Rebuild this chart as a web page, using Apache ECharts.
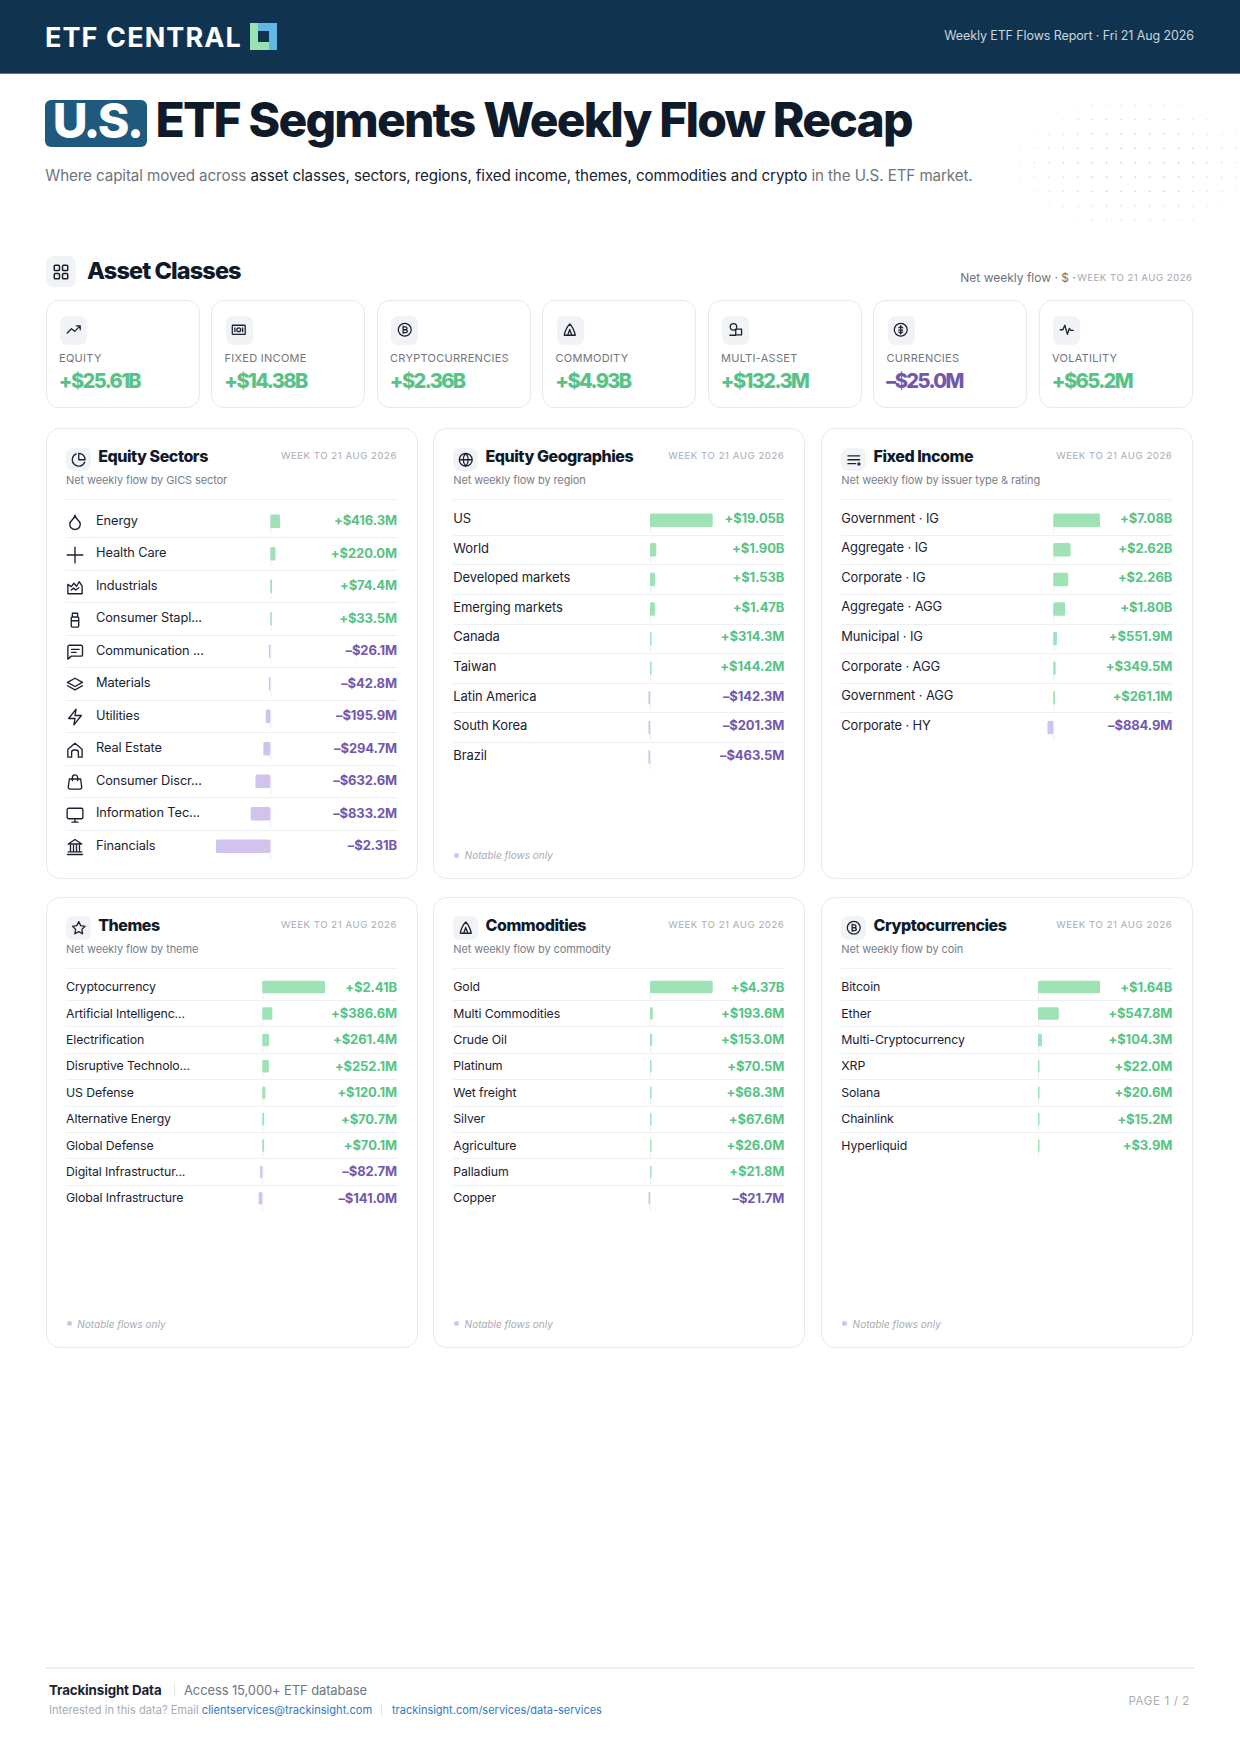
<!DOCTYPE html>
<html>
<head>
<meta charset="utf-8">
<title>U.S. ETF Segments Weekly Flow Recap</title>
<script src="https://cdn.jsdelivr.net/npm/echarts@6/dist/echarts.min.js"></script>
<style>
html, body { margin: 0; padding: 0; background: #fff; }
#page { position: relative; width: 1240px; height: 1754px; overflow: hidden; font-family: Inter, sans-serif; color: #111c2b; }
#page div { position: absolute; white-space: nowrap; }
#page svg.ic { display: block; fill: none; stroke: #1a2230; stroke-linecap: round; stroke-linejoin: round; }
#chart { position: absolute; left: 0; top: 0; width: 1240px; height: 1754px; letter-spacing: -0.1px; }
a { color: #2f7ac8; text-decoration: none; }
</style>
</head>
<body>
<div id="page"><div id="chart"></div></div>
<script>
// asset class cards
var assetNames = ['EQUITY', 'FIXED INCOME', 'CRYPTOCURRENCIES', 'COMMODITY', 'MULTI-ASSET', 'CURRENCIES', 'VOLATILITY'];
var assetLabels = ['+$25.61B', '+$14.38B', '+$2.36B', '+$4.93B', '+$132.3M', '–$25.0M', '+$65.2M'];

// panels, flows in $M
var sectorNames = ['Energy', 'Health Care', 'Industrials', 'Consumer Stapl...', 'Communication ...', 'Materials', 'Utilities', 'Real Estate', 'Consumer Discr...', 'Information Tec...', 'Financials'];
var sectorFlows = [416.3, 220.0, 74.4, 33.5, -26.1, -42.8, -195.9, -294.7, -632.6, -833.2, -2310];
var sectorLabels = ['+$416.3M', '+$220.0M', '+$74.4M', '+$33.5M', '–$26.1M', '–$42.8M', '–$195.9M', '–$294.7M', '–$632.6M', '–$833.2M', '–$2.31B'];

var geoNames = ['US', 'World', 'Developed markets', 'Emerging markets', 'Canada', 'Taiwan', 'Latin America', 'South Korea', 'Brazil'];
var geoFlows = [19050, 1900, 1530, 1470, 314.3, 144.2, -142.3, -201.3, -463.5];
var geoLabels = ['+$19.05B', '+$1.90B', '+$1.53B', '+$1.47B', '+$314.3M', '+$144.2M', '–$142.3M', '–$201.3M', '–$463.5M'];

var fixedNames = ['Government · IG', 'Aggregate · IG', 'Corporate · IG', 'Aggregate · AGG', 'Municipal · IG', 'Corporate · AGG', 'Government · AGG', 'Corporate · HY'];
var fixedFlows = [7080, 2620, 2260, 1800, 551.9, 349.5, 261.1, -884.9];
var fixedLabels = ['+$7.08B', '+$2.62B', '+$2.26B', '+$1.80B', '+$551.9M', '+$349.5M', '+$261.1M', '–$884.9M'];

var themeNames = ['Cryptocurrency', 'Artificial Intelligenc...', 'Electrification', 'Disruptive Technolo...', 'US Defense', 'Alternative Energy', 'Global Defense', 'Digital Infrastructur...', 'Global Infrastructure'];
var themeFlows = [2410, 386.6, 261.4, 252.1, 120.1, 70.7, 70.1, -82.7, -141.0];
var themeLabels = ['+$2.41B', '+$386.6M', '+$261.4M', '+$252.1M', '+$120.1M', '+$70.7M', '+$70.1M', '–$82.7M', '–$141.0M'];

var commodityNames = ['Gold', 'Multi Commodities', 'Crude Oil', 'Platinum', 'Wet freight', 'Silver', 'Agriculture', 'Palladium', 'Copper'];
var commodityFlows = [4370, 193.6, 153.0, 70.5, 68.3, 67.6, 26.0, 21.8, -21.7];
var commodityLabels = ['+$4.37B', '+$193.6M', '+$153.0M', '+$70.5M', '+$68.3M', '+$67.6M', '+$26.0M', '+$21.8M', '–$21.7M'];

var coinNames = ['Bitcoin', 'Ether', 'Multi-Cryptocurrency', 'XRP', 'Solana', 'Chainlink', 'Hyperliquid'];
var coinFlows = [1640, 547.8, 104.3, 22.0, 20.6, 15.2, 3.9];
var coinLabels = ['+$1.64B', '+$547.8M', '+$104.3M', '+$22.0M', '+$20.6M', '+$15.2M', '+$3.9M'];

var GREEN = '#57c386', PURPLE = '#7258ad', BAR_GREEN = '#9fe2b6', BAR_PURPLE = '#d0c4ee';
var WEEK = 'WEEK TO 21 AUG 2026';

function circle(cx, cy, r) {
    return 'M' + (cx - r) + ' ' + cy + 'a' + r + ' ' + r + ' 0 1 0 ' + (2 * r) + ' 0a' + r + ' ' + r + ' 0 1 0 ' + (-2 * r) + ' 0';
}
function square(x, y) {
    return 'M' + (x + 1.5) + ' ' + y + 'h4a1.5 1.5 0 0 1 1.5 1.5v4a1.5 1.5 0 0 1-1.5 1.5h-4a1.5 1.5 0 0 1-1.5-1.5v-4a1.5 1.5 0 0 1 1.5-1.5z';
}
var coin = circle(12, 12, 10) + 'M9.5 7.5h3.7a2.2 2.2 0 0 1 0 4.5H9.5zM9.5 12h4.2a2.2 2.2 0 0 1 0 4.5H9.5zM9.5 6.5v11';
var peak = 'M12 3C8 7 5 13 3.5 20.5h17C19 13 16 7 12 3zM12 11.5l-3.2 9M12 11.5l3.2 9';
var icons = {
    drop: 'M12 22a7 7 0 0 0 7-7c0-2-1-3.9-3-5.5s-3.5-4-4-6.5c-.5 2.5-2 4.9-4 6.5C6 11.1 5 13 5 15a7 7 0 0 0 7 7z',
    plus: 'M1.5 12h21M12 1.5v21',
    factory: 'M2.5 21V8.5l4.5 3 3.5-4.5 3.5 4 3.5-6 4 5.5V21zM7 16l3-2.5 3 2.5 4-3',
    bottle: 'M8.5 3h7v5h-7zM8.5 8h7a1.5 1.5 0 0 1 1.5 1.5V20a1.5 1.5 0 0 1-1.5 1.5h-7A1.5 1.5 0 0 1 7 20V9.5A1.5 1.5 0 0 1 8.5 8zM7 13h10',
    chat: 'M22 15.5a2 2 0 0 1-2 2H7l-4.5 4V5a2 2 0 0 1 2-2H20a2 2 0 0 1 2 2zM7.5 8.5h10M7.5 12.5h6',
    layers: 'M12 3 2 8.5 12 14l10-5.5zM2 13l10 5.5L22 13',
    zap: 'M13.5 1.5 3.5 14h8.5l-1.5 8.5 10-12.5H12z',
    house: 'M2.5 11 12 3l9.5 8v10.5h-5V15a3 3 0 0 0-3-3h-3a3 3 0 0 0-3 3v6.5h-5z',
    bag: 'M4.5 8h15l1.5 11a2.5 2.5 0 0 1-2.5 2.5h-13A2.5 2.5 0 0 1 3 19zM8.5 10V6a3.5 3.5 0 0 1 7 0v4',
    monitor: 'M3.5 3h17a2 2 0 0 1 2 2v10a2 2 0 0 1-2 2h-17a2 2 0 0 1-2-2V5a2 2 0 0 1 2-2zM8 21.5h8M12 17v4.5',
    bank: 'M2 22h20M3 18.5h18M6 18V10M10 18V10M14 18V10M18 18V10M12 2l9 6H3z',
    pie: 'M21.2 15.9A10 10 0 1 1 8 2.8M22 12A10 10 0 0 0 12 2v10z',
    globe: circle(12, 12, 10) + 'M2 12h20M12 2a15 15 0 0 1 0 20a15 15 0 0 1 0-20',
    lines: 'M3 6h18M3 12h18M3 18h12' + circle(20, 18.5, 1.6),
    star: 'M12 2.5l3 6.2 6.8 1-5 4.8 1.2 6.8-6-3.2-6 3.2 1.2-6.8-5-4.8 6.8-1z',
    peak: peak,
    coin: coin,
    grid: square(3, 3) + square(14, 3) + square(3, 14) + square(14, 14),
    trend: 'M22 6l-8.5 8.5-5-4L2 17M16 6h6v6',
    cash: 'M3 5h18a1 1 0 0 1 1 1v12a1 1 0 0 1-1 1H3a1 1 0 0 1-1-1V6a1 1 0 0 1 1-1z' + circle(12, 12, 3) + 'M6 9v6M18 9v6',
    shapes: circle(8.5, 7.5, 5) + 'M12 11h9v9h-9zM3 20.5h9',
    dollar: circle(12, 12, 10) + 'M12 5.5v13M9 9l3-2 3 2M9 12.5h6M9 15.5l3 2 3-2',
    pulse: 'M2 12h4l3-7 4 14 3-9 2 3h4'
};

var page = document.getElementById('page');

function put(left, top, html, css) {
    var d = document.createElement('div');
    d.style.cssText = 'left:' + left + 'px;top:' + top + 'px;' + (css || '');
    d.innerHTML = html;
    page.insertBefore(d, document.getElementById('chart'));
    return d;
}
// text, vertically centred on y
function text(x, y, str, css) {
    return put(x, y, str, 'transform:translateY(-50%);' + css);
}
function textR(x, y, str, css) {
    return put(x, y, str, 'transform:translate(-100%,-50%);' + css);
}
function icon(cx, cy, size, name, width) {
    put(cx - size / 2, cy - size / 2, '<svg class="ic" width="' + size + '" height="' + size + '" viewBox="0 0 24 24" stroke-width="' + (width || 2) + '"><path d="' + icons[name] + '"/></svg>');
}
function iconBox(x, y, w, h, name, size, width) {
    put(x, y, '', 'width:' + w + 'px;height:' + h + 'px;background:#f1f3f6;border-radius:7px;');
    icon(x + w / 2, y + h / 2, size, name, width);
}

// top banner
put(0, 0, '', 'width:1240px;height:73.5px;background:#10344f;border-bottom:0.5px solid #5f7a8c;box-sizing:border-box;');
text(45, 36.5, 'ETF CENTRAL', 'font-size:27px;font-weight:700;color:#fff;letter-spacing:1.1px;');
put(250, 23.3, '<svg width="27" height="27" viewBox="0 0 27 27" style="display:block"><rect width="27" height="27" fill="#62b6e4"/><path d="M0 0h8v19h11v8H0z" fill="#9be0b0"/><rect x="8" y="8" width="11" height="11" fill="#10344f"/></svg>');
textR(1194, 34.5, 'Weekly ETF Flows Report · Fri 21 Aug 2026', 'font-size:12.5px;letter-spacing:-0.1px;color:#c9d5de;');

// title
put(45.3, 100, '', 'width:101.5px;height:46.7px;background:#1f5a7e;border-radius:6px;');
put(97, 119.5, 'U.S.', 'font-size:48px;font-weight:800;color:#fff;letter-spacing:-2.6px;transform:translate(-50%,-50%);');
text(155.5, 119, 'ETF Segments Weekly Flow Recap', 'font-size:48px;font-weight:800;color:#0f1a2a;letter-spacing:-1.83px;');
text(45.3, 174.5, '<span style="color:#6f747c">Where capital moved across </span><span style="color:#1a2230">asset classes, sectors, regions, fixed income, themes, commodities and crypto</span><span style="color:#6f747c"> in the U.S. ETF market.</span>', 'font-size:15.2px;letter-spacing:-0.11px;');
put(1005, 98, '', 'width:235px;height:132px;background-image:radial-gradient(circle,#b9c0c9 0.8px,transparent 1.1px);background-size:14.4px 14.4px;background-position:8px 0;-webkit-mask-image:radial-gradient(ellipse 60% 60% at 55% 50%,#000 40%,transparent 100%);mask-image:radial-gradient(ellipse 60% 60% at 55% 50%,#000 40%,transparent 100%);opacity:.7;');

// asset classes section
iconBox(46, 256, 30, 31, 'grid', 18, 2);
text(87, 270, 'Asset Classes', 'font-size:23.5px;font-weight:800;letter-spacing:-0.9px;color:#0f1a2a;');
text(960.3, 276.7, 'Net weekly flow · $ ·', 'font-size:12px;color:#6f747c;');
textR(1192.5, 277, WEEK, 'font-size:9.6px;letter-spacing:0.5px;color:#a3a8b0;');

var assetIcons = ['trend', 'cash', 'coin', 'peak', 'shapes', 'dollar', 'pulse'];
assetNames.forEach(function (name, i) {
    var x = 45.5 + i * 165.5;
    put(x, 300, '', 'width:154.2px;height:108px;border-radius:13px;background:#fff;border:1.8px solid #e8eaee;box-sizing:border-box;');
    iconBox(x + 14.5, 315.7, 27, 29, assetIcons[i], 15.5, 2);
    text(x + 13.5, 358, name, 'font-size:11px;letter-spacing:0.28px;color:#71767e;');
    text(x + 13.3, 380.7, assetLabels[i], 'font-size:20px;font-weight:800;letter-spacing:-1.6px;color:' + (assetLabels[i].charAt(0) == '+' ? GREEN : PURPLE) + ';');
});

// col 0..2, row 0..1, zero = x of the zero line, full = px of the longest bar, up = px the row text sits above the bar
var panels = [
    {title: 'Equity Sectors', sub: 'Net weekly flow by GICS sector', icon: 'pie', names: sectorNames, flows: sectorFlows, labels: sectorLabels,
     col: 0, row: 0, zero: 270.3, full: 54.3, top: 505, rowH: 32.5, barW: 13.5, up: 1, fontSize: 12.8, labelLeft: 30,
     rowIcons: ['drop', 'plus', 'factory', 'bottle', 'chat', 'layers', 'zap', 'house', 'bag', 'monitor', 'bank']},
    {title: 'Equity Geographies', sub: 'Net weekly flow by region', icon: 'globe', names: geoNames, flows: geoFlows, labels: geoLabels,
     col: 1, row: 0, zero: 650, full: 62.7, top: 505.4, rowH: 29.6, barW: 13.5, up: 2.2, fontSize: 13, note: true},
    {title: 'Fixed Income', sub: 'Net weekly flow by issuer type & rating', icon: 'lines', names: fixedNames, flows: fixedFlows, labels: fixedLabels,
     col: 2, row: 0, zero: 1053.3, full: 46.7, top: 505.4, rowH: 29.6, barW: 13.5, up: 2.2, fontSize: 12.9},
    {title: 'Themes', sub: 'Net weekly flow by theme', icon: 'star', names: themeNames, flows: themeFlows, labels: themeLabels,
     col: 0, row: 1, zero: 262.3, full: 62.7, top: 973.9, rowH: 26.4, barW: 12.5, up: 0.5, fontSize: 12.3, note: true},
    {title: 'Commodities', sub: 'Net weekly flow by commodity', icon: 'peak', names: commodityNames, flows: commodityFlows, labels: commodityLabels,
     col: 1, row: 1, zero: 650, full: 62.7, top: 973.9, rowH: 26.4, barW: 12.5, up: 0.5, fontSize: 12.3, note: true},
    {title: 'Cryptocurrencies', sub: 'Net weekly flow by coin', icon: 'coin', names: coinNames, flows: coinFlows, labels: coinLabels,
     col: 2, row: 1, zero: 1038, full: 62, top: 973.9, rowH: 26.4, barW: 12.5, up: 0.5, fontSize: 12.3, note: true}
];
var colX = [46.7, 434, 822];
var rowY = [428.5, 897.3];

var grid = [], xAxis = [], yAxis = [], series = [];

panels.forEach(function (p, i) {
    var x = colX[p.col], y = rowY[p.row];
    var left = x + 19.3, right = x + 350.3;

    put(x - 0.7, y - 0.7, '', 'width:371.5px;height:451.5px;border-radius:14px;background:#fff;border:1.8px solid #e8eaee;box-sizing:border-box;');
    iconBox(left, y + 19, 25, 23.5, p.icon, 15.5, 2);
    text(x + 51.5, y + 27.5, p.title, 'font-size:16px;font-weight:800;letter-spacing:-0.45px;color:#0f1a2a;');
    textR(right, y + 26.8, WEEK, 'font-size:9.6px;letter-spacing:0.55px;color:#a8acb3;');
    text(left, y + 51.5, p.sub, 'font-size:11px;letter-spacing:-0.1px;color:#797e87;');
    put(left, y + 70.5, '', 'width:331px;height:1.2px;background:#f0f1f4;');
    if (p.note) {
        put(left + 0.5, y + 424, '', 'width:5px;height:5px;border-radius:50%;background:#cfc6ec;');
        text(left + 11.3, y + 426.2, 'Notable flows only', 'font-size:10px;font-style:italic;color:#a8acb3;');
    }
    if (p.rowIcons) {
        p.rowIcons.forEach(function (name, r) {
            icon(75, p.top + (r + 0.5) * p.rowH + 1, 18, name, 1.8);
        });
    }

    // same px per $M on both sides of zero, picked from the longest bar
    var maxAbs = Math.max.apply(null, p.flows.map(Math.abs));
    var pxPerM = p.full / maxAbs;

    grid.push({left: left, width: right - left, top: p.top, height: p.rowH * p.names.length});
    xAxis.push({type: 'value', gridIndex: i, show: false, min: -(p.zero - left) / pxPerM, max: (right - p.zero) / pxPerM, splitLine: {show: false}});
    yAxis.push({
        type: 'category', gridIndex: i, inverse: true, data: p.names, position: 'left',
        axisLine: {show: false}, axisTick: {show: false},
        axisLabel: {inside: true, interval: 0, margin: p.labelLeft || 0, align: 'left', verticalAlign: 'bottom', lineHeight: p.up * 2, fontFamily: 'Inter', fontSize: p.fontSize, color: '#1a2230'},
        splitLine: {show: true, interval: 0, showMinLine: false, showMaxLine: false, lineStyle: {color: '#eff0f3', width: 1.2}}
    });
    yAxis.push({
        type: 'category', gridIndex: i, inverse: true, data: p.labels, position: 'right',
        axisLine: {show: false}, axisTick: {show: false}, splitLine: {show: false},
        axisLabel: {
            inside: true, interval: 0, margin: 0, align: 'right', verticalAlign: 'bottom', lineHeight: p.up * 2, fontFamily: 'Inter', fontSize: 13, fontWeight: 700,
            color: function (value) { return value.charAt(0) == '+' ? GREEN : PURPLE; }
        }
    });
    // faint tick on the zero line of each row, behind the flow bar
    series.push({
        type: 'bar', xAxisIndex: i, yAxisIndex: yAxis.length - 2, data: p.flows.map(function () { return 0; }), barWidth: p.barW + 6, barMinHeight: 1, barGap: '-100%', silent: true, animation: false, z: 1,
        itemStyle: {color: '#eceef2'}
    });
    series.push({
        type: 'bar', xAxisIndex: i, yAxisIndex: yAxis.length - 2, data: p.flows, barWidth: p.barW, barMinHeight: 1.5, barGap: '-100%', silent: true, animation: false, z: 2,
        itemStyle: {borderRadius: 1.5, color: function (d) { return d.value >= 0 ? BAR_GREEN : BAR_PURPLE; }}
    });
});

// footer
put(46, 1667, '', 'width:1148px;height:1.5px;background:#eceef1;');
text(49, 1690, 'Trackinsight Data', 'font-size:13.3px;font-weight:700;letter-spacing:-0.1px;color:#1a2230;');
put(173.5, 1683, '', 'width:1px;height:14px;background:#e4e6ea;');
text(184, 1690, 'Access 15,000+ ETF database', 'font-size:13px;letter-spacing:-0.12px;color:#71767e;');
text(49, 1710, 'Interested in this data? Email <a>clientservices@trackinsight.com</a>', 'font-size:11.1px;color:#a8acb3;');
put(381, 1704, '', 'width:1px;height:12px;background:#e4e6ea;');
text(392, 1710, '<a>trackinsight.com/services/data-services</a>', 'font-size:11px;');
textR(1190, 1700.5, 'PAGE 1 / 2', 'font-size:11.5px;letter-spacing:0.65px;color:#a8acb3;');

var myChart = echarts.init(document.getElementById('chart'), null, {renderer: 'svg', width: 1240, height: 1754});
myChart.setOption({
    animation: false,
    tooltip: {show: false},
    grid: grid,
    xAxis: xAxis,
    yAxis: yAxis,
    series: series
});
</script>
</body>
</html>
